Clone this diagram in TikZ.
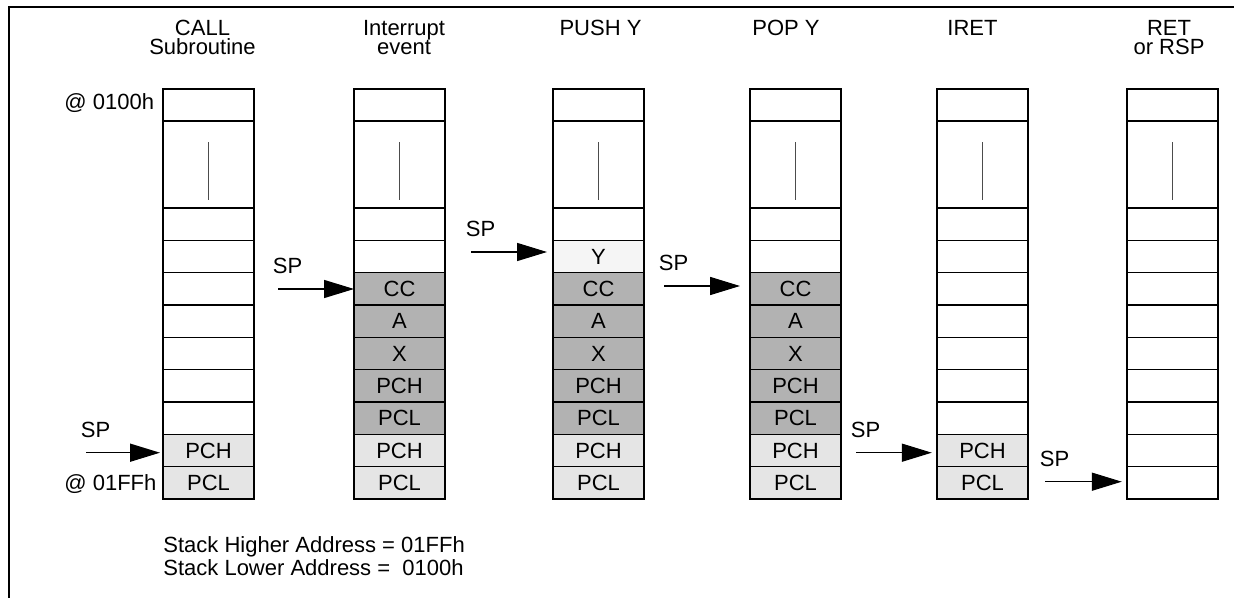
\documentclass[tikz,border=0pt]{standalone}
\usepackage{fontspec}
\setmainfont{Liberation Sans}
\usetikzlibrary{positioning,arrows.meta}

\tikzset{
  cell/.style={draw, line width=0.6pt, minimum width=45.5pt, minimum height=16.17pt, inner sep=0pt, outer sep=0pt},
  topcell/.style={cell, minimum height=16pt},
  tallcell/.style={cell, minimum height=43.5pt},
  freecell/.style={cell},
  savedcell/.style={cell, fill=black!30},
  retcell/.style={cell, fill=black!10},
  pushcell/.style={cell, fill=black!4},
  sparrow/.style={line width=0.75pt, -{Triangle[length=15pt,width=9pt]}},
  splabel/.style={inner sep=0pt},
  head/.style={align=center, anchor=base, inner sep=0pt},
  plain/.style={anchor=base west, inner sep=0pt},
}

\begin{document}
\begin{tikzpicture}[x=0.5pt, y=-0.5pt, font=\fontsize{11}{9.75}\selectfont]
  \useasboundingbox (0,0) rectangle (1234,598);
  \draw[line width=1pt] (9,598) -- (9,7) -- (1234,7);

  \foreach \col/\xc/\cells in {
    1/208.5/{freecell/,freecell/,freecell/,freecell/,freecell/,freecell/,freecell/,retcell/PCH,retcell/PCL},
    2/399.5/{freecell/,freecell/,savedcell/CC,savedcell/A,savedcell/X,savedcell/PCH,savedcell/PCL,retcell/PCH,retcell/PCL},
    3/598.5/{freecell/,pushcell/Y,savedcell/CC,savedcell/A,savedcell/X,savedcell/PCH,savedcell/PCL,retcell/PCH,retcell/PCL},
    4/795.5/{freecell/,freecell/,savedcell/CC,savedcell/A,savedcell/X,savedcell/PCH,savedcell/PCL,retcell/PCH,retcell/PCL},
    5/982.5/{freecell/,freecell/,freecell/,freecell/,freecell/,freecell/,freecell/,retcell/PCH,retcell/PCL},
    6/1172.5/{freecell/,freecell/,freecell/,freecell/,freecell/,freecell/,freecell/,freecell/,freecell/}} {
    \node[topcell] (c\col r0) at (\xc,105) {};
    \node[tallcell] (c\col t) at (\xc,164.5) {};
    \draw[black!70, line width=0.4pt] ([yshift=4pt]c\col t.south) -- ([yshift=-10.5pt]c\col t.north);
    \foreach \st/\txt [count=\row] in \cells
      \node[\st] (c\col r\row) at (\xc,{208+32.33*(\row-0.5)}) {\txt};
  }

  \node[head] (hd1) at (202.5,55) {CALL\\Subroutine};
  \node[head] (hd2) at (404,55) {Interrupt\\event};
  \node[head] (hd3) at (600.5,35.7) {PUSH Y};
  \node[head] (hd4) at (786,35.7) {POP Y};
  \node[head] (hd5) at (972.5,35.7) {IRET};
  \node[head] (hd6) at (1169,55) {RET\\or RSP};

  \node[plain] (addrlo) at (64,110) {@ 0100h};
  \node[plain] (addrhi) at (64,490) {@ 01FFh};

  \foreach \col/\xs/\ys/\target/\gap in {1/86/452.7/c1r8/1.5pt, 2/278/289/c2r3/0pt, 3/471/252/c3r2/3pt,
      4/664/286/c4r3/5pt, 5/856/452.7/c5r8/2.6pt, 6/1045/481.7/c6r9/2.6pt} {
    \coordinate (t\col) at (\xs,\ys);
    \node[splabel, above right=7.2pt and -2.75pt of t\col] (sp\col) {SP};
    \draw[sparrow, shorten >=\gap] (t\col) -- (t\col -| \target.west);
  }

  \node[plain, align=left, font=\fontsize{11}{9.2}\selectfont] (stackinfo) at (163,575)
    {Stack Higher Address = 01FFh\\Stack Lower Address = \ 0100h};
\end{tikzpicture}
\end{document}
